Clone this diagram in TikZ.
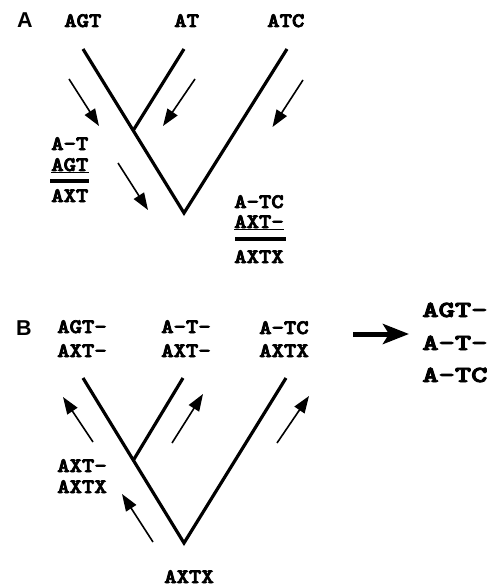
\documentclass[tikz,border=0pt]{standalone}
\usepackage{fontspec}
\setmainfont{Liberation Serif}
\newfontfamily\cour[FakeBold=3.5]{lmmonolt10-bold.otf}
\newfontfamily\panelfont{Liberation Sans}
\usetikzlibrary{arrows.meta}
\begin{document}
\begin{tikzpicture}[x=1pt,y=-1pt,
  seq/.style={font=\cour\fontsize{20.5}{20.5}\selectfont, inner sep=0pt, anchor=base west, xscale=1.15},
  bigseq/.style={font=\cour\fontsize{23}{23}\selectfont, inner sep=0pt, anchor=base west, xscale=1.35},
  panel/.style={font=\panelfont\bfseries\fontsize{21.5}{21.5}\selectfont, inner sep=0pt, anchor=base west},
  branch/.style={line width=3.2pt},
  flow/.style={line width=1.6pt, -{Triangle[length=17pt,width=12pt]}},
  bar/.style={line width=3.5pt},
  uline/.style={line width=1.2pt},
  bigarrow/.style={line width=5pt, -{Stealth[length=26pt,width=20pt,inset=6pt]}}]
\useasboundingbox (0,0) rectangle (503,588);
\fill[white] (0,0) rectangle (503,588);

% ---------- Panel A ----------
\node[panel] (lA) at (17,28) {A};
\node[seq] (a1) at (64,27) {AGT};
\node[seq] (a2) at (174,27) {AT};
\node[seq] (a3) at (267,27) {ATC};

\coordinate (aL) at (83,49);
\coordinate (aM) at (184,49);
\coordinate (aR) at (287,49);
\coordinate (aV) at (184,213);
\coordinate (aJ) at (133.5,130);
\draw[branch] (aL) -- (aV) -- (aR);
\draw[branch] (aM) -- (aJ);

\coordinate (fa1s) at (69,79);   \coordinate (fa1e) at (99,126);
\coordinate (fa2s) at (195,79);  \coordinate (fa2e) at (163,126);
\coordinate (fa3s) at (303,80);  \coordinate (fa3e) at (272.5,127);
\coordinate (fa4s) at (118,163); \coordinate (fa4e) at (148,210);
\draw[flow] (fa1s) -- (fa1e);
\draw[flow] (fa2s) -- (fa2e);
\draw[flow] (fa3s) -- (fa3e);
\draw[flow] (fa4s) -- (fa4e);

\node[seq] (l1) at (51,150) {A-T};
\node[seq] (l2) at (51,171) {AGT};
\node[seq] (l3) at (51,202) {AXT};
\draw[uline] ([yshift=-1.2pt]l2.base west) -- ([yshift=-1.2pt]l2.base east);
\coordinate (lb1) at (50,181); \coordinate (lb2) at (89,181);
\draw[bar] (lb1) -- (lb2);

\node[seq] (r1) at (234,208) {A-TC};
\node[seq] (r2) at (234,228) {AXT-};
\node[seq] (r3) at (234,263) {AXTX};
\draw[uline] ([yshift=-1.2pt]r2.base west) -- ([yshift=-1.2pt]r2.base east);
\coordinate (rb1) at (235,239); \coordinate (rb2) at (286,239);
\draw[bar] (rb1) -- (rb2);

% ---------- Panel B ----------
\node[panel] (lB) at (16,335) {B};
\node[seq] (b1) at (57,333) {AGT-};
\node[seq] (b2) at (57,357) {AXT-};
\node[seq] (b3) at (161,333) {A-T-};
\node[seq] (b4) at (161,357) {AXT-};
\node[seq] (b5) at (259,334) {A-TC};
\node[seq] (b6) at (259,357) {AXTX};

\coordinate (bL) at (83,378);
\coordinate (bM) at (183,378);
\coordinate (bR) at (286,378);
\coordinate (bV) at (184,543);
\coordinate (bJ) at (133.5,460);
\draw[branch] (bL) -- (bV) -- (bR);
\draw[branch] (bM) -- (bJ);

\coordinate (fb1s) at (93,442);  \coordinate (fb1e) at (63,397);
\coordinate (fb2s) at (172,443); \coordinate (fb2e) at (203,394);
\coordinate (fb3s) at (277,443); \coordinate (fb3e) at (309,396);
\coordinate (fb4s) at (153,542); \coordinate (fb4e) at (122,494);
\draw[flow] (fb1s) -- (fb1e);
\draw[flow] (fb2s) -- (fb2e);
\draw[flow] (fb3s) -- (fb3e);
\draw[flow] (fb4s) -- (fb4e);

\node[seq] (b7) at (57,472) {AXT-};
\node[seq] (b8) at (57,493) {AXTX};
\node[seq] (b9) at (164,583) {AXTX};

\coordinate (ba1) at (353,334); \coordinate (ba2) at (409,334);
\draw[bigarrow] (ba1) -- (ba2);

\node[bigseq] (m1) at (422,317) {AGT-};
\node[bigseq] (m2) at (422,350) {A-T-};
\node[bigseq] (m3) at (422,382) {A-TC};
\end{tikzpicture}
\end{document}
